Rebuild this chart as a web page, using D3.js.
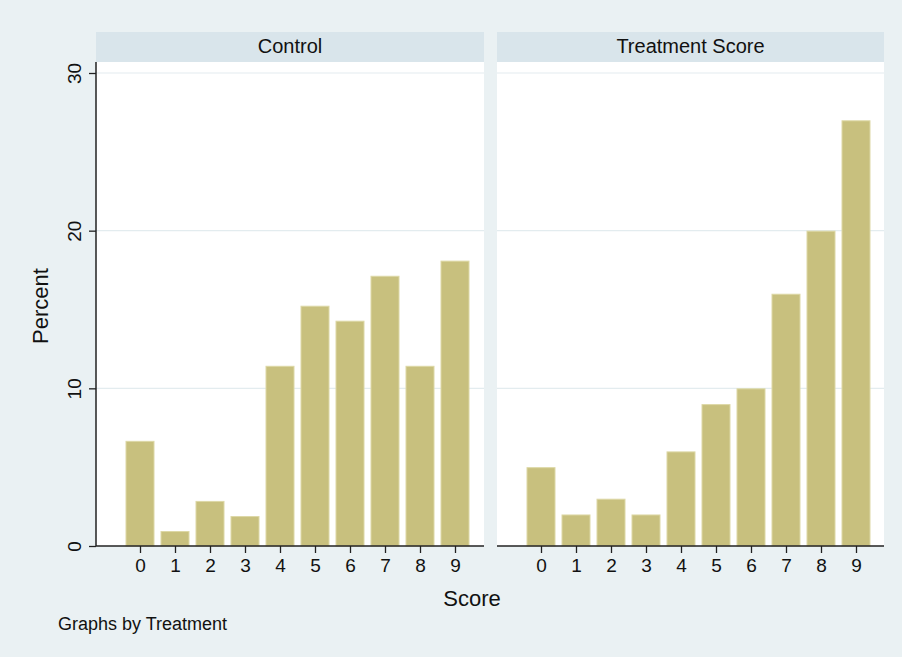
<!DOCTYPE html>
<html><head><meta charset="utf-8">
<script src="https://cdn.jsdelivr.net/npm/d3@7"></script>
<style>body{margin:0;background:#eaf1f3}svg{display:block}text{font-family:"Liberation Sans",Arial,sans-serif;fill:#111}</style>
</head><body>
<script>
const scores = [0,1,2,3,4,5,6,7,8,9];
const panelTitles = ["Control", "Treatment Score"];
const controlPct = [6.67, 0.95, 2.86, 1.90, 11.43, 15.24, 14.29, 17.14, 11.43, 18.10];
const treatmentPct = [5, 2, 3, 2, 6, 9, 10, 16, 20, 27];
const yTicks = [0, 10, 20, 30];

const W = 902, H = 657;
const FONT = '"Liberation Sans",Arial,sans-serif';
const svg = d3.select("body").append("svg").attr("width", W).attr("height", H);
svg.append("rect").attr("width", W).attr("height", H).attr("fill", "#eaf1f3");

const plotTop = 62, plotBottom = 546, headerTop = 32;
const panels = [
  {x0: 96, x1: 484, title: panelTitles[0], data: controlPct},
  {x0: 497, x1: 884, title: panelTitles[1], data: treatmentPct}
];
const y = d3.scaleLinear().domain([0, 30]).range([plotBottom, 73]);

panels.forEach((p, i) => {
  const g = svg.append("g");
  g.append("rect").attr("x", p.x0).attr("y", headerTop).attr("width", p.x1 - p.x0).attr("height", plotTop - headerTop).attr("fill", "#d9e5eb");
  g.append("text").attr("x", (p.x0 + p.x1) / 2).attr("y", 53).attr("text-anchor", "middle").style("font-size", "20px").text(p.title);
  g.append("rect").attr("x", p.x0).attr("y", plotTop).attr("width", p.x1 - p.x0).attr("height", plotBottom - plotTop).attr("fill", "#ffffff");
  const x = d3.scaleLinear().domain([0, 9]).range([p.x0 + 44, p.x0 + 44 + 315]);
  g.selectAll(".grid").data(yTicks.filter(d => d > 0)).enter().append("line")
    .attr("x1", p.x0).attr("x2", p.x1).attr("y1", d => y(d)).attr("y2", d => y(d))
    .attr("stroke", "#e3ecef").attr("stroke-width", 1.2);
  const bw = 29;
  g.selectAll(".bar").data(p.data).enter().append("rect")
    .attr("x", (d, k) => x(scores[k]) - bw / 2 + 0.5)
    .attr("width", bw - 1)
    .attr("y", d => y(d) + 0.5)
    .attr("height", d => y(0) - y(d) - 0.5)
    .attr("fill", "#c8c07e").attr("stroke", "#ddd8a6").attr("stroke-width", 1);
  const xAxis = d3.axisBottom(x).tickValues(scores).tickSize(7).tickPadding(6).tickFormat(d3.format("d"));
  const ax = g.append("g").attr("transform", `translate(0,${plotBottom})`).call(xAxis);
  ax.attr("font-size", null).attr("font-family", null);
  ax.select(".domain").remove();
  ax.append("line").attr("x1", p.x0).attr("x2", p.x1).attr("stroke", "#222").attr("stroke-width", 1.5);
  ax.selectAll(".tick line").attr("stroke", "#222").attr("stroke-width", 1.3);
  ax.selectAll(".tick text").style("font-size", "19px").attr("fill", "#111").style("font-family", FONT);
  if (i === 0) {
    const yAxis = d3.axisLeft(y).tickValues(yTicks).tickSize(7).tickPadding(0);
    const ay = g.append("g").attr("transform", `translate(${p.x0},0)`).call(yAxis);
    ay.attr("font-size", null).attr("font-family", null);
    ay.select(".domain").remove();
    ay.append("line").attr("y1", plotTop).attr("y2", plotBottom).attr("stroke", "#222").attr("stroke-width", 1.5);
    ay.selectAll(".tick line").attr("stroke", "#222").attr("stroke-width", 1.3);
    ay.selectAll(".tick text")
      .attr("x", 0).attr("dy", null)
      .attr("transform", "translate(-15,0) rotate(-90)")
      .attr("text-anchor", "middle")
      .style("font-size", "19px").attr("fill", "#111").style("font-family", FONT);
  }
});

svg.append("text").attr("transform", `translate(48,306) rotate(-90)`).attr("text-anchor", "middle").style("font-size", "22px").text("Percent");
svg.append("text").attr("x", 472).attr("y", 606).attr("text-anchor", "middle").style("font-size", "22px").text("Score");
svg.append("text").attr("x", 58).attr("y", 630).style("font-size", "18px").text("Graphs by Treatment");
</script>
</body></html>
